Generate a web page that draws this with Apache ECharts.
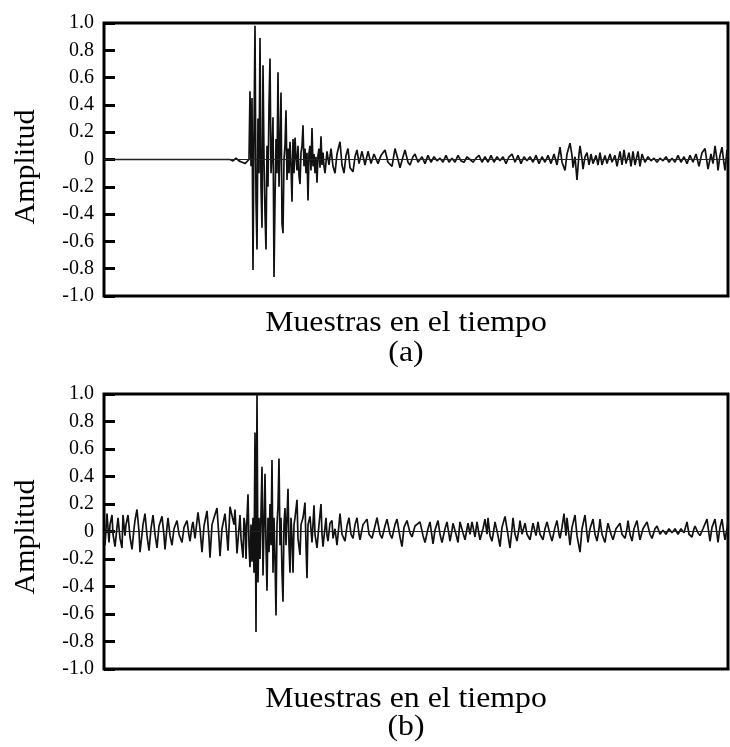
<!DOCTYPE html>
<html>
<head>
<meta charset="utf-8">
<script src="https://cdn.jsdelivr.net/npm/echarts@6/dist/echarts.min.js"></script>
<style>html,body{margin:0;padding:0;background:#fff;}#chart{width:730px;height:747px;}</style>
</head>
<body>
<div id="chart"></div>
<script>
// Amplitude ticks
const yTicks = [-1.0, -0.8, -0.6, -0.4, -0.2, 0, 0.2, 0.4, 0.6, 0.8, 1.0];
const yTitle = 'Amplitud';
const xTitle = 'Muestras en el tiempo';
const panelLabels = ['(a)', '(b)'];
const sampleCount = 624;

// Panel (a): [sample, amplitude]
const waveA = [
[0,0],[126,0],[129,-0.01],[132,0.01],[135,-0.01],[138,-0.02],[141,-0.03],[143,-0.04],[145,0],
[146,0.50],[147,-0.05],[148,0.45],[149,-0.81],[150,0.2],[151,0.98],[152,-0.3],[153,-0.66],[154,0.3],[155,-0.1],
[156,0.89],[157,-0.2],[158,-0.5],[159,0.69],[160,0],[161,-0.4],[162,-0.66],[163,0.1],[164,-0.2],[165,0.4],
[166,0.74],[167,-0.1],[168,0.05],[169,0.31],[170,-0.86],[171,-0.3],[172,0.15],[173,-0.1],[174,0.64],[175,-0.2],
[176,0.1],[177,0.49],[178,-0.47],[179,-0.54],[180,0],[181,0.1],[182,0.36],[183,-0.15],[184,0.08],[185,-0.1],
[186,0.13],[187,-0.05],[188,-0.31],[189,0.15],[190,-0.1],[191,0.16],[192,0.02],[193,-0.08],[194,0.1],[195,-0.12],
[196,-0.18],[197,0.05],[198,0.1],[199,0.25],[200,-0.05],[201,0.08],[202,-0.1],[203,0.05],[204,-0.3],[205,0.05],
[206,0.1],[207,-0.08],[208,0.23],[209,-0.05],[210,0.04],[211,-0.1],[212,0.02],[213,-0.17],[214,0.03],[215,0.08],
[216,-0.06],[217,0.17],[218,-0.04],[219,0.05],[220,-0.05],[221,-0.1],[223,0.06],[225,-0.04],[227,0.08],[229,-0.05],
[231,-0.1],[233,0.04],[236,0.13],[238,-0.04],[240,-0.1],[242,0.03],[244,0.08],[246,-0.06],[249,-0.09],[251,0.02],
[253,0.07],[255,-0.03],[258,0.06],[261,-0.04],[264,0.06],[267,-0.03],[270,0.04],[274,-0.03],[277,0.03],[281,0.07],
[284,-0.02],[288,-0.05],[291,0.08],[294,0],[296,-0.06],[299,0.02],[301,0.07],[304,-0.02],[306,-0.04],[309,0.02],
[311,0.04],[314,-0.02],[318,0.02],[321,-0.03],[324,0.03],[327,-0.02],[330,0.02],[333,-0.01],
[336,0.01],[339,-0.02],[342,0.03],[345,-0.02],[348,0.01],[351,-0.02],[354,0.03],[357,-0.01],[360,-0.02],[363,0.02],
[366,0],[369,-0.02],[372,0.01],[375,0.03],[378,-0.02],[381,0.02],[384,-0.02],[387,0.03],[390,-0.02],[393,0.02],
[396,-0.01],[399,0.02],[402,-0.03],[405,0.02],[408,0.04],[411,-0.02],[414,0.03],[417,-0.03],[420,0.02],[423,-0.01],
[426,0.02],[429,-0.02],[432,0.03],[435,-0.03],[438,0.02],[441,-0.02],[444,0.03],[447,-0.03],[450,0.04],[453,-0.04],
[456,0.09],[458,-0.02],[461,-0.08],[463,0.04],[466,0.12],[468,0.03],[469,-0.06],[471,0.02],[473,-0.15],[475,0.04],
[476,0.1],[478,0],[479,-0.07],[481,0.02],[483,0.05],[485,-0.04],[487,0.04],[489,-0.03],[492,0.03],[494,-0.04],
[496,0.05],[498,-0.04],[501,0.03],[503,-0.03],[506,0.04],[508,-0.02],[511,0.03],[513,-0.05],[516,0.06],[518,-0.04],
[520,0.07],[522,-0.03],[525,0.05],[527,-0.05],[529,0.06],[531,-0.04],[534,0.06],[536,-0.05],[538,0.04],[541,-0.02],
[544,0.02],[547,-0.01],[550,0.01],[553,-0.02],[556,0.01],[559,-0.01],[562,0.02],[565,-0.02],[568,0.01],[571,-0.02],
[574,0.03],[577,-0.02],[580,0.02],[583,-0.03],[586,0.03],[589,-0.02],[592,0.04],[595,-0.05],[598,0.05],[601,0.08],
[603,-0.02],[604,-0.07],[607,0.04],[609,-0.03],[611,0.1],[613,0],[614,-0.08],[616,0.03],[618,0.09],[620,-0.03],
[621,-0.08],[623,0.07],[624,0.02]
];

// Panel (b): [sample, amplitude]
const waveB = [
[0,0],[1,-0.1],[3,0.13],[5,-0.08],[6,0.05],[8,0.12],[9,-0.02],[11,-0.11],[13,0.03],[14,0.1],
[16,-0.05],[18,-0.12],[19,0.12],[21,-0.03],[22,0.05],[24,0.12],[26,-0.04],[28,-0.13],[30,0.02],[31,0.08],
[33,0.16],[35,0],[36,-0.15],[38,-0.02],[39,0.05],[41,0.13],[43,-0.03],[45,-0.14],[47,0.02],[49,0.12],
[51,-0.02],[53,-0.12],[55,0.04],[58,0.11],[60,-0.03],[61,-0.13],[63,0.03],[64,0.1],[66,-0.03],[68,-0.1],
[70,0.02],[73,0.08],[75,-0.02],[78,-0.08],[80,0.03],[83,0.08],[85,-0.03],[86,-0.07],[88,0.04],[89,0.07],
[91,-0.05],[94,0.14],[96,0.02],[98,-0.15],[100,0.04],[103,0.15],[105,-0.05],[106,-0.19],[108,0.05],[110,0.1],
[113,0.17],[115,-0.05],[116,-0.18],[118,0.02],[121,0.13],[123,-0.04],[124,-0.14],[126,0.18],[128,0.19],[130,0.05],
[131,0.16],[133,-0.16],[134,-0.17],[136,0.12],[137,-0.05],[139,-0.19],[140,0.1],[141,0.05],[142,-0.2],[143,0.1],
[144,0.27],[145,-0.1],[146,-0.26],[147,0.05],[148,-0.22],[149,0.1],[150,-0.3],[151,0.72],[152,-0.73],[153,1.0],
[154,-0.37],[155,0.1],[156,-0.2],[158,0.47],[159,-0.32],[160,0.05],[161,0.42],[162,-0.1],[163,-0.43],[164,0.1],
[165,-0.15],[166,0.2],[167,-0.1],[168,0.52],[169,-0.3],[170,0.1],[171,-0.2],[172,-0.61],[173,0.05],[174,0.18],
[175,0.53],[176,-0.1],[177,0.1],[178,-0.3],[179,-0.51],[180,0.05],[181,0.17],[182,-0.1],[183,0.1],[184,0.31],
[185,-0.1],[186,-0.3],[187,0.1],[188,-0.05],[189,-0.3],[190,0.05],[191,0.1],[193,0.23],[194,-0.05],[196,-0.17],
[197,0.05],[199,0.1],[201,0.21],[202,-0.1],[203,-0.34],[204,0.05],[206,0.11],[208,-0.08],[210,0.19],[211,-0.02],
[213,-0.12],[215,0.05],[217,0.2],[218,-0.02],[219,-0.11],[221,0.03],[222,0.1],[223,-0.03],[224,-0.07],[226,0.06],
[228,0.08],[229,-0.05],[231,0.02],[233,-0.1],[235,0.05],[236,0.13],[238,-0.02],[241,-0.07],[243,0.04],[245,0.1],
[247,-0.02],[249,-0.05],[251,0.05],[253,0.1],[255,-0.02],[256,-0.06],[259,0.05],[263,0.09],[265,-0.02],[268,-0.05],
[271,0.04],[273,0.1],[276,-0.02],[278,-0.05],[281,0.04],[283,0.09],[286,-0.02],[288,-0.05],[291,0.05],[293,0.09],
[296,-0.04],[298,-0.11],[300,0.03],[303,0.08],[306,-0.01],[308,-0.04],[311,0.04],[313,0.03],
[316,0.07],[319,-0.03],[321,-0.08],[324,0.02],[326,0.07],[329,-0.09],[331,0.01],[334,0.08],[336,-0.02],[338,-0.08],
[341,0.02],[343,0.07],[346,-0.07],[348,0.01],[349,0.06],[352,-0.02],[354,-0.08],[356,0.07],[359,-0.01],[361,-0.06],
[364,0.06],[366,-0.02],[368,0.07],[371,-0.04],[373,0.07],[375,-0.02],[376,-0.06],[379,0.02],[381,0.09],[383,-0.02],
[384,0.1],[386,-0.03],[388,-0.07],[390,0.02],[391,0.07],[394,-0.03],[396,-0.11],[398,0.03],[401,0.11],[403,0.02],
[406,-0.12],[408,0.02],[409,0.1],[411,-0.02],[413,-0.07],[415,0.02],[416,0.08],[418,-0.02],[421,0.06],[423,-0.02],
[426,-0.06],[428,0.02],[429,0.06],[432,-0.03],[434,0.07],[436,-0.02],[439,-0.06],[441,0.02],[443,0.07],[446,-0.02],
[448,-0.07],[451,0.03],[453,0.08],[455,-0.02],[456,-0.05],[458,0.03],[460,0.13],[462,-0.03],[463,0.1],[466,-0.1],
[468,0.03],[471,0.12],[473,-0.03],[476,-0.15],[478,0.02],[481,0.12],[483,-0.02],[484,-0.08],[486,0.02],[489,0.09],
[491,-0.02],[493,-0.07],[495,0.02],[496,0.09],[498,-0.02],[501,-0.08],[503,0.02],[504,0.06],[507,-0.02],[509,-0.06],
[512,0.02],[516,0.06],[518,-0.02],[521,-0.05],[523,0.02],[524,0.08],[526,-0.02],[528,-0.07],[530,0.02],[533,0.08],
[535,-0.02],[536,-0.06],[539,0.02],[543,0.07],[546,-0.02],[548,-0.05],[551,0.02],[553,0.04],[556,-0.02],[559,0.01],
[562,-0.02],[565,0.02],[568,-0.01],[571,0.02],[574,-0.02],[577,0.02],[580,-0.01],[583,0.07],[585,-0.02],[588,-0.04],
[590,0.02],[591,0.04],[594,-0.01],[596,-0.03],[599,0.02],[603,0.09],[605,-0.02],[606,-0.07],[608,0.03],[611,0.09],
[613,-0.02],[614,-0.08],[616,0.03],[618,0.09],[620,-0.02],[621,-0.06],[623,0.02],[624,0.08]
];

const FONT = '"Liberation Serif", "Times New Roman", serif';
const chart = echarts.init(document.getElementById('chart'), null, {renderer: 'canvas'});

const grids = [
  {left: 104, top: 23, width: 624, height: 273},
  {left: 104, top: 394, width: 624, height: 275}
];

function yAxisFor(i) {
  return {
    gridIndex: i, type: 'value', min: -1, max: 1, interval: 0.2,
    axisLine: {show: false},
    splitLine: {show: false},
    axisTick: {show: true, inside: true, length: 11, lineStyle: {color: '#000', width: 3}},
    axisLabel: {
      margin: 10, fontFamily: FONT, fontSize: 20, color: '#000',
      formatter: v => Math.abs(v) < 1e-9 ? '0' : v.toFixed(1)
    }
  };
}
function xAxisFor(i) {
  return {
    gridIndex: i, type: 'value', min: 0, max: sampleCount,
    axisLine: {show: false}, axisTick: {show: false}, axisLabel: {show: false}, splitLine: {show: false}
  };
}
function seriesFor(i, data) {
  return {
    type: 'line', xAxisIndex: i, yAxisIndex: i, data: data,
    showSymbol: false, symbol: 'none', silent: true,
    lineStyle: {color: '#111', width: 1.7},
    markLine: {
      silent: true, symbol: 'none', label: {show: false},
      lineStyle: {color: '#222', width: 1.2, type: 'solid'},
      data: [{yAxis: 0}]
    },
    z: 3
  };
}

const textStyleBig = {fontFamily: FONT, fontSize: 30, fill: '#000'};
function label(text, x, y, rot, sx) {
  return {type: 'text', x: x, y: y, rotation: rot, scaleX: sx,
    style: Object.assign({text: text, textAlign: 'center', textVerticalAlign: 'middle'}, textStyleBig)};
}

chart.setOption({
  animation: false,
  backgroundColor: '#fff',
  grid: grids.map(g => Object.assign({show: true, borderColor: '#000', borderWidth: 3, backgroundColor: 'transparent'}, g)),
  xAxis: [xAxisFor(0), xAxisFor(1)],
  yAxis: [yAxisFor(0), yAxisFor(1)],
  series: [seriesFor(0, waveA), seriesFor(1, waveB)],
  graphic: [
    label(yTitle, 26, 167, Math.PI / 2, 1),
    label(yTitle, 26, 537, Math.PI / 2, 1),
    label(xTitle, 406, 323, 0, 1.06),
    label(panelLabels[0], 406, 353, 0, 1.06),
    label(xTitle, 406, 699, 0, 1.06),
    label(panelLabels[1], 406, 727, 0, 1.06)
  ]
});
</script>
</body>
</html>
